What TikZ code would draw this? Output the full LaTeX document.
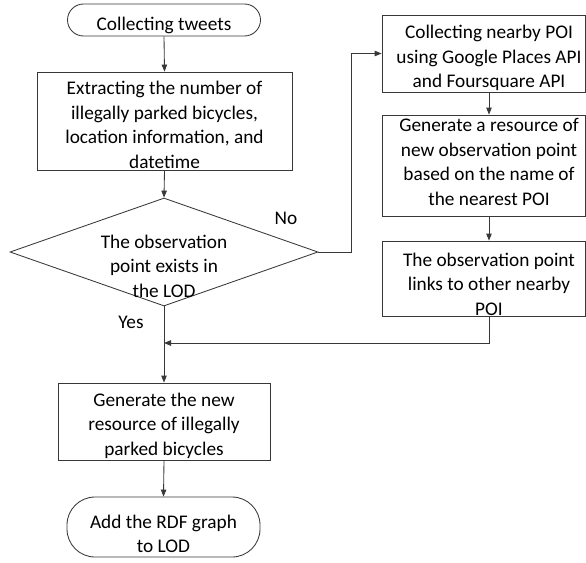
\documentclass[tikz,border=0pt]{standalone}
\usepackage{fontspec}
\setmainfont{Carlito}
\usetikzlibrary{shapes.geometric,arrows.meta}
\begin{document}
\begin{tikzpicture}[x=1pt,y=-1pt,
  every node/.style={font=\fontsize{19.3}{24.5}\selectfont, text=black},
  ln/.style={draw=black!78, line width=0.85pt},
  arr/.style={ln, -{Triangle[length=7pt,width=5.5pt]}},
  boxn/.style={ln, rectangle, inner sep=0pt},
  term/.style={ln, rectangle, rounded corners=#1, inner sep=0pt},
  txt/.style={align=center, inner sep=0pt}]
\useasboundingbox (0,0) rectangle (586,562);

% left column
\node[term=16pt, minimum width=193pt, minimum height=32pt] (s) at (164,20) {};
\node[txt] (st) at (164,25) {Collecting tweets};
\node[boxn, minimum width=255pt, minimum height=98pt] (b1) at (164.5,121) {};
\node[txt] (b1t) at (164.5,125)
  {Extracting the number of\\illegally parked bicycles,\\location information, and\\datetime};
\node[ln, diamond, aspect=2.85, minimum width=308pt, minimum height=108pt, inner sep=0pt] (d) at (164,252) {};
\node[txt] (dt) at (164,266) {The observation\\point exists in\\the LOD};
\node[boxn, minimum width=212pt, minimum height=77pt] (b4) at (164,421.5) {};
\node[txt] (b4t) at (164,425.5) {Generate the new\\resource of illegally\\parked bicycles};
\node[term=28pt, minimum width=193pt, minimum height=60pt] (e) at (163.5,527) {};
\node[txt] (et) at (163.5,534) {Add the RDF graph\\to LOD};

% right column
\node[boxn, minimum width=203pt, minimum height=77pt] (r1) at (483.5,53.5) {};
\node[txt] (t1) at (489,58) {Collecting nearby POI\\using Google Places API\\and Foursquare API};
\node[boxn, minimum width=203pt, minimum height=101pt] (r2) at (483.5,165.5) {};
\node[txt] (t2) at (489,162) {Generate a resource of\\new observation point\\based on the name of\\the nearest POI};
\node[boxn, minimum width=203pt, minimum height=75pt] (r3) at (483.5,278.5) {};
\node[txt] (t3) at (489,284) {The observation point\\links to other nearby\\POI};

% labels
\node (no) at (286,218) {No};
\node (yes) at (131,322) {Yes};

\coordinate (j) at (164,343);

% connectors
\draw[arr] (s.south) -- (b1.north);
\draw[arr] (b1.south) -- (d.north);
\draw[arr] (d.east) -- ++(33,0) |- (r1.west);
\draw[arr] (r1.south -| t1) -- (r2.north -| t1);
\draw[arr] (r2.south -| t1) -- (r3.north -| t1);
\draw[arr] (r3.south -| t1) |- (j);
\draw[arr] (d.south) -- (b4.north);
\draw[arr] (b4.south) -- (e.north);
\end{tikzpicture}
\end{document}
